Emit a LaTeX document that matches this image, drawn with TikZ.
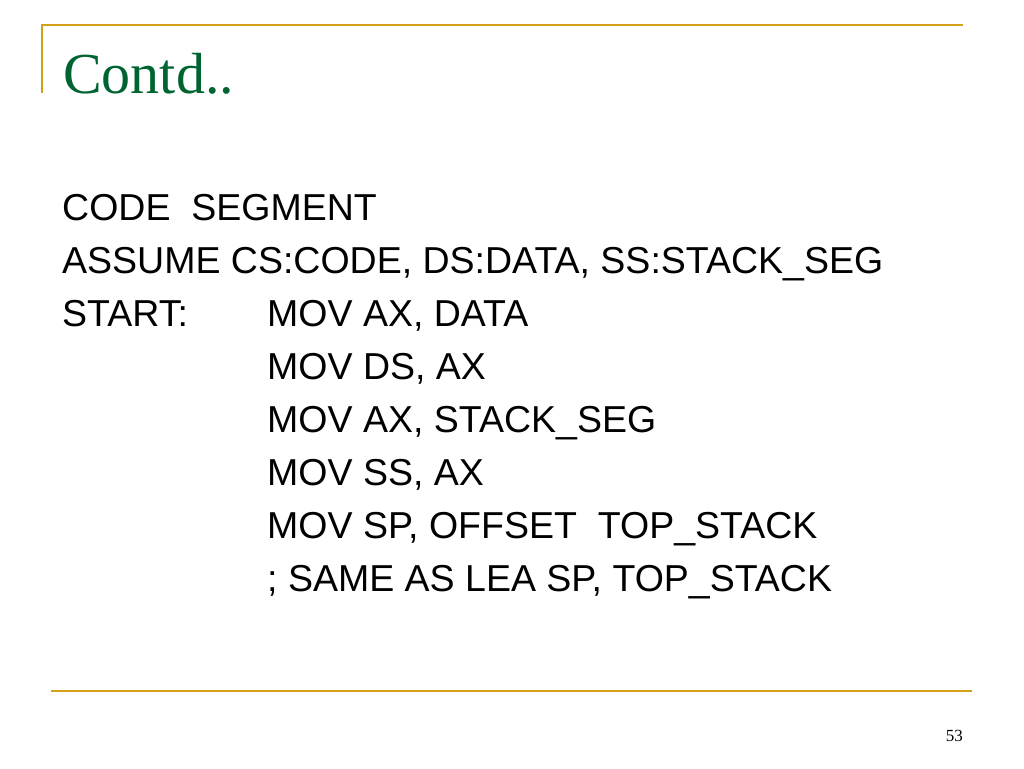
\documentclass[tikz,border=0pt]{standalone}
\usepackage{fontspec}
\setmainfont{Liberation Serif}
\newfontfamily\bodyfont{Liberation Sans}
\definecolor{gold}{RGB}{212,160,23}
\definecolor{titlegreen}{RGB}{0,100,50}
\begin{document}
\begin{tikzpicture}[x=1pt,y=-1pt,
  rule/.style={draw=gold,line width=2.4pt},
  code/.style={anchor=base west,inner sep=0pt,font=\bodyfont\fontsize{37.5}{44}\selectfont}]
\useasboundingbox[fill=white] (0,0) rectangle (1024,768);
\coordinate (tl) at (42,93);
\coordinate (tc) at (42,25);
\coordinate (tr) at (963,25);
\coordinate (bl) at (51,691);
\coordinate (br) at (972,691);
\draw[rule] (tl) -- (tc) -- (tr);
\draw[rule] (bl) -- (br);
\node[anchor=base west,inner sep=0pt,text=titlegreen,font=\fontsize{58}{64}\selectfont] (title) at (63,93) {Contd..};
\node[code] (l1) at (62,220) {CODE\ \ SEGMENT};
\node[code] (l2) at (62,273) {ASSUME CS:CODE, DS:DATA, SS:STACK\_SEG};
\node[code] (l3) at (62,326) {START:};
\node[code] (l3b) at (267,326) {MOV AX, DATA};
\node[code] (l4) at (267,379) {MOV DS, AX};
\node[code] (l5) at (267,432) {MOV AX, STACK\_SEG};
\node[code] (l6) at (267,485) {MOV SS, AX};
\node[code] (l7) at (267,538) {MOV SP, OFFSET\ \ TOP\_STACK};
\node[code] (l8) at (267,591) {; SAME AS LEA SP, TOP\_STACK};
\node[anchor=base east,inner sep=0pt,font=\fontsize{17}{20}\selectfont] (page) at (963,741) {53};
\end{tikzpicture}
\end{document}
